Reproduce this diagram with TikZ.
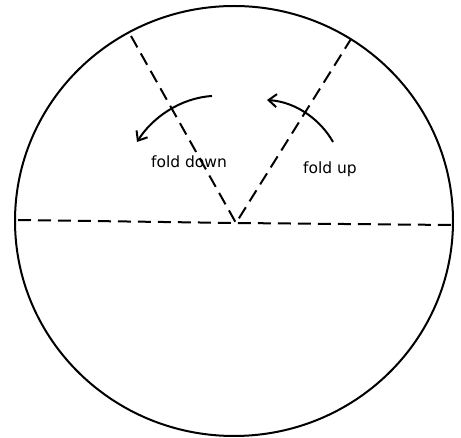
\documentclass[tikz,border=0pt]{standalone}
\usepackage{fontspec}
\setsansfont{DejaVu Sans}
\usetikzlibrary{arrows.meta,positioning,calc}

\begin{document}
\begin{tikzpicture}[x=1pt,y=-1pt,line width=2pt,
  fold/.style={dash pattern=on 13pt off 7pt},
  turn/.style={-{Straight Barb[length=8pt,width=13pt]},line width=2pt},
  lbl/.style={font=\sffamily\fontsize{15.5}{18}\selectfont}]
  \useasboundingbox (0,0) rectangle (461,438);
  % paper disc
  \coordinate (O) at (234,221);
  \draw (O) ellipse (219 and 215);

  % fold lines
  \coordinate (V) at (236,223);
  \coordinate (L) at (18,220);
  \coordinate (R) at (452,225);
  \coordinate (TL) at (131,36);
  \coordinate (TR) at (351,39);
  \draw[fold] (L) -- (V) -- (R);
  \draw[fold] (TL) -- (V) -- (TR);

  % turning arrows
  \coordinate (D1) at (212,96);
  \coordinate (D2) at (137,142);
  \draw[turn] (D1) .. controls (180,98) and (152,118) .. (D2);
  \coordinate (U1) at (333,142);
  \coordinate (U2) at (267,100);
  \draw[turn] (U1) .. controls (322,122) and (298,102) .. (U2);

  \node[lbl] (down) at (189,162) {fold down};
  \node[lbl] (up) at (330,169) {fold up};
\end{tikzpicture}
\end{document}
